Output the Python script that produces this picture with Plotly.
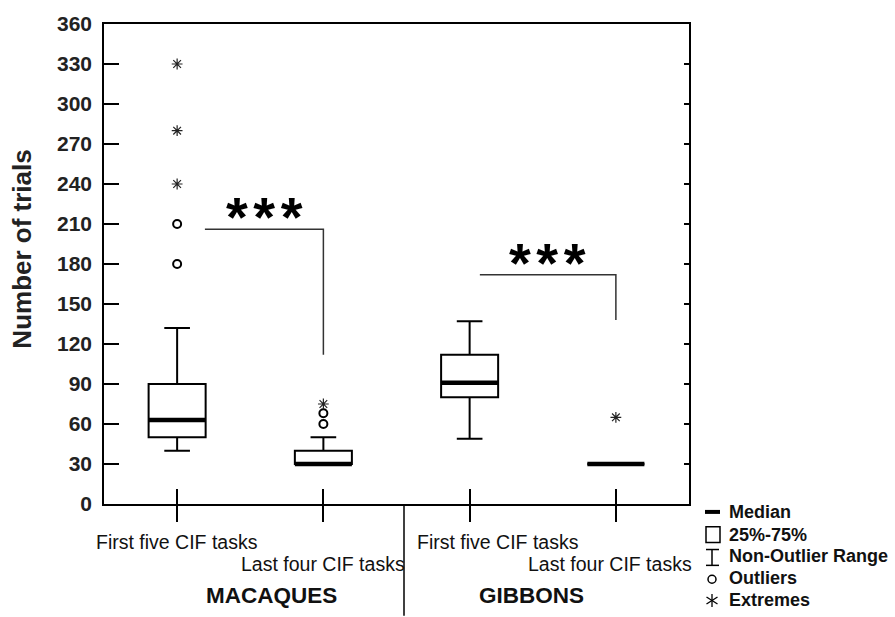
import plotly.graph_objects as go

# ---------------- data ----------------
positions = [0, 1, 2, 3]
tick_labels = ["First five CIF tasks", "Last four CIF tasks",
               "First five CIF tasks", "Last four CIF tasks"]
groups = ["MACAQUES", "GIBBONS"]

q1 = [50, 30, 80, 30]
median = [63, 30, 91, 30]
q3 = [90, 40, 112, 30]
lower = [40, 30, 49, 30]
upper = [132, 50, 137, 30]

outlier_x = [0, 0, 1, 1]
outlier_y = [180, 210, 60, 68]
extreme_x = [0, 0, 0, 1, 3]
extreme_y = [240, 280, 330, 75, 65]

bracket_x0 = [0.19, 2.07]
bracket_x1 = [1, 3]
bracket_top = [206, 172]
bracket_bottom = [112, 138]

y_ticks = list(range(0, 361, 30))

# ---------------- layout constants ----------------
W, H = 895, 617
L, R, T, B = 104, 206, 19, 113
PW, PH = W - L - R, H - T - B
BOX_W = 0.39
FONT = "Liberation Sans, Arial, sans-serif"


def px(xp):
    return (xp - L) / PW


def py(yp):
    return (H - B - yp) / PH


fig = go.Figure()

fig.add_trace(go.Box(
    x=positions, q1=q1, median=median, q3=q3,
    lowerfence=lower, upperfence=upper,
    width=BOX_W, whiskerwidth=0.45,
    line=dict(color="black", width=2), fillcolor="white",
    boxpoints=False, showlegend=False, hoverinfo="skip"))

# thick medians
mx, my = [], []
for p, m in zip(positions, median):
    mx += [p - BOX_W / 2, p + BOX_W / 2, None]
    my += [m, m, None]
fig.add_trace(go.Scatter(x=mx, y=my, mode="lines",
                         line=dict(color="black", width=4.5),
                         showlegend=False, hoverinfo="skip"))

fig.add_trace(go.Scatter(x=outlier_x, y=outlier_y, mode="markers",
                         marker=dict(symbol="circle-open", size=8,
                                     color="black", line=dict(width=2)),
                         showlegend=False))
fig.add_trace(go.Scatter(x=extreme_x, y=extreme_y, mode="markers",
                         marker=dict(symbol="asterisk-open", size=9,
                                     color="#222", line=dict(width=1.2)),
                         showlegend=False))

# significance brackets
bx, by = [], []
for x0, x1, yt, yb in zip(bracket_x0, bracket_x1, bracket_top, bracket_bottom):
    bx += [x0, x1, x1, None]
    by += [yt, yt, yb, None]
fig.add_trace(go.Scatter(x=bx, y=by, mode="lines",
                         line=dict(color="#333", width=1.5),
                         showlegend=False, hoverinfo="skip"))

# dummy trace for overlay axes (inside ticks)
fig.add_trace(go.Scatter(x=[None], y=[None], xaxis="x2", yaxis="y2",
                         showlegend=False))

annotations = []
gap = '<span style="font-size:20px"> </span>'
for x0, x1, yt in zip(bracket_x0, bracket_x1, bracket_top):
    annotations.append(dict(x=(x0 + x1) / 2, y=yt, xref="x", yref="y",
                            text="*" + gap + "*" + gap + "*",
                            showarrow=False, yanchor="bottom",
                            yshift=-21,
                            font=dict(family=FONT, size=56, color="black",
                                      weight="bold")))

label_shift = [0, 0, 28, -6]
label_row = [-25, -47, -25, -47]
for p, t, s, r in zip(positions, tick_labels, label_shift, label_row):
    annotations.append(dict(x=p, y=0, xref="x", yref="paper", text=t,
                            showarrow=False, xanchor="center", yanchor="top",
                            xshift=s, yshift=r,
                            font=dict(family=FONT, size=19.5, color="#111")))

for g, xp in zip(groups, [271, 531]):
    annotations.append(dict(x=px(xp), y=py(596), xref="paper", yref="paper",
                            text=g, showarrow=False, xanchor="center",
                            yanchor="middle",
                            font=dict(family=FONT, size=22.5, color="#111",
                                      weight="bold")))

annotations.append(dict(x=px(22), y=py(247), xref="paper", yref="paper",
                        text="Number of trials", textangle=-90,
                        showarrow=False, xanchor="center", yanchor="middle",
                        font=dict(family=FONT, size=26, color="#222",
                                  weight="bold")))

legend_items = ["Median", "25%-75%", "Non-Outlier Range", "Outliers", "Extremes"]
legend_y = [512, 535, 557, 579, 601]
for t, yp in zip(legend_items, legend_y):
    annotations.append(dict(x=px(727), y=py(yp), xref="paper", yref="paper",
                            text=t, showarrow=False, xanchor="left",
                            yanchor="middle",
                            font=dict(family=FONT, size=18, color="#111",
                                      weight="bold")))

shapes = []
# divider between groups
shapes.append(dict(type="line", xref="paper", yref="paper",
                   x0=px(404), x1=px(404), y0=0, y1=py(617),
                   line=dict(color="black", width=1.5)))
# legend symbols
shapes.append(dict(type="line", xref="paper", yref="paper",
                   x0=px(705), x1=px(720), y0=py(512), y1=py(512),
                   line=dict(color="black", width=4)))
shapes.append(dict(type="rect", xref="paper", yref="paper",
                   x0=px(706), x1=px(720), y0=py(543), y1=py(527),
                   line=dict(color="black", width=1.5)))
for seg in [((712, 550), (712, 566)), ((706, 550), (719, 550)),
            ((706, 566), (719, 566))]:
    shapes.append(dict(type="line", xref="paper", yref="paper",
                       x0=px(seg[0][0]), y0=py(seg[0][1]),
                       x1=px(seg[1][0]), y1=py(seg[1][1]),
                       line=dict(color="black", width=1.5)))
shapes.append(dict(type="circle", xref="paper", yref="paper",
                   x0=px(708), x1=px(716), y0=py(584), y1=py(576),
                   line=dict(color="black", width=1.5)))
for seg in [((712, 595), (712, 608)), ((706.5, 598), (717.5, 605)),
            ((706.5, 605), (717.5, 598))]:
    shapes.append(dict(type="line", xref="paper", yref="paper",
                       x0=px(seg[0][0]), y0=py(seg[0][1]),
                       x1=px(seg[1][0]), y1=py(seg[1][1]),
                       line=dict(color="black", width=1.3)))

fig.update_layout(
    width=W, height=H,
    margin=dict(l=L, r=R, t=T, b=B, pad=0),
    paper_bgcolor="white", plot_bgcolor="white",
    showlegend=False,
    xaxis=dict(range=[-0.5, 3.5], tickvals=positions, showticklabels=False,
               ticks="outside", ticklen=16, tickwidth=1.5, tickcolor="black",
               showline=True, linecolor="black", linewidth=1.5, mirror=True,
               showgrid=False, zeroline=False),
    xaxis2=dict(range=[-0.5, 3.5], tickvals=positions, showticklabels=False,
                ticks="inside", ticklen=15, tickwidth=1.5, tickcolor="black",
                overlaying="x", anchor="y2", side="bottom", showline=False,
                showgrid=False, zeroline=False),
    yaxis=dict(range=[0, 360], tickvals=y_ticks, ticks="inside", ticklen=15,
               tickwidth=1.5, tickcolor="black", showline=True,
               linecolor="black", linewidth=1.5, mirror=True,
               showgrid=False, zeroline=False, ticklabelstandoff=6,
               tickfont=dict(family=FONT, size=21, color="#222",
                             weight="bold")),
    yaxis2=dict(range=[0, 360], tickvals=y_ticks[1:-1], ticks="inside",
                ticklen=5, tickwidth=1.5, tickcolor="black",
                overlaying="y", anchor="x2", side="right",
                showticklabels=False, showline=False, showgrid=False,
                zeroline=False),
    annotations=annotations, shapes=shapes,
)

fig.write_html("out.html")
